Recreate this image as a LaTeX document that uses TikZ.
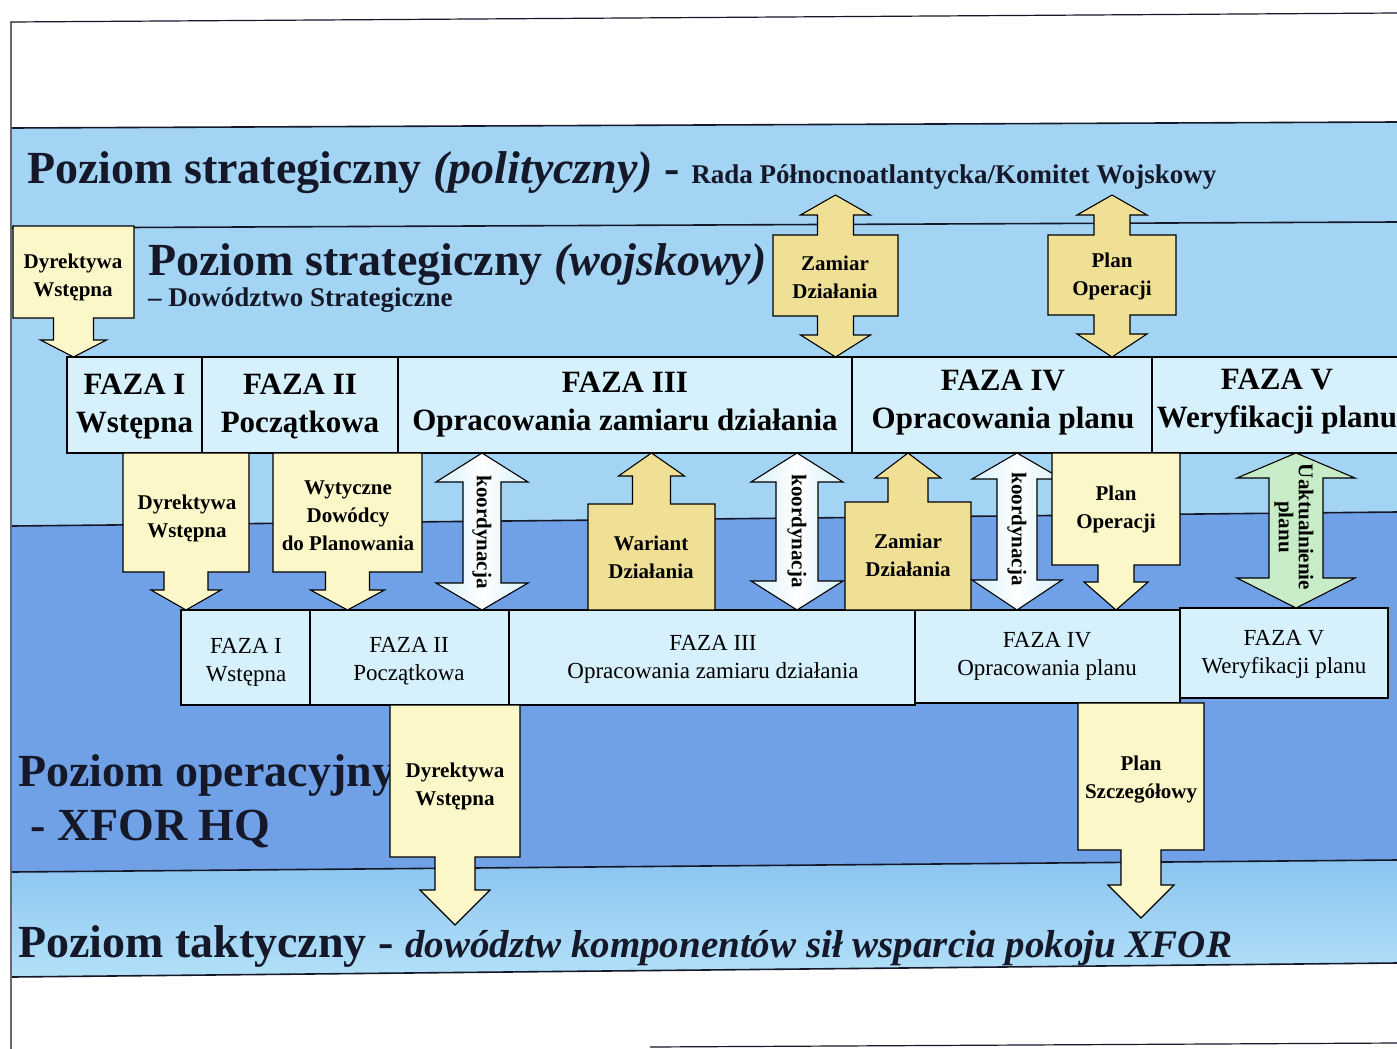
\documentclass[tikz,border=0pt]{standalone}
\usepackage{fontspec}
\setmainfont{Liberation Serif}

\definecolor{bandlight}{RGB}{164,212,244}
\definecolor{banddark}{RGB}{112,160,230}
\definecolor{tacttop}{RGB}{140,196,240}
\definecolor{tactbot}{RGB}{178,224,248}
\definecolor{cellfill}{RGB}{214,240,252}
\definecolor{paleyellow}{RGB}{252,247,200}
\definecolor{tanyellow}{RGB}{240,224,150}
\definecolor{coordfill}{RGB}{214,240,250}
\definecolor{updfill}{RGB}{200,236,200}
\definecolor{inkline}{RGB}{20,24,40}

\tikzset{
  bandrule/.style={draw=inkline, line width=1.6pt},
  outline/.style={draw=black, line width=1.1pt, line join=miter},
  cellbox/.style={outline, fill=cellfill},
  celltext/.style={align=center, inner sep=0pt, font=\fontsize{31}{38}\selectfont\bfseries},
  lowtext/.style={align=center, inner sep=0pt, font=\fontsize{23}{28}\selectfont},
  boxtext/.style={align=center, inner sep=0pt, font=\fontsize{21}{28}\selectfont\bfseries},
  sidetext/.style={align=center, inner sep=0pt, rotate=-90, font=\fontsize{21}{20}\selectfont\bfseries},
  title/.style={anchor=base west, inner sep=0pt, text=inkline, font=\fontsize{46}{46}\selectfont\bfseries},
}

% box with a one-way arrow: x1, x2, far edge, edge with shaft, head base, tip, style, shaft half-width, head half-width
\newcommand\blockarrow[9]{%
  \pgfmathsetmacro\bac{(#1+#2)/2}%
  \path[outline, #7] (#1,#3) -- (#1,#4) -- ({\bac-#8},#4) -- ({\bac-#8},#5) -- ({\bac-#9},#5)
    -- (\bac,#6) -- ({\bac+#9},#5) -- ({\bac+#8},#5) -- ({\bac+#8},#4) -- (#2,#4) -- (#2,#3) -- cycle;}

% box with arrows up and down: x1, x2, top, bottom, up base, up tip, down base, down tip, style
\newcommand\twowaybox[9]{%
  \pgfmathsetmacro\bac{(#1+#2)/2}%
  \path[outline, #9] (#1,#3) -- ({\bac-18},#3) -- ({\bac-18},#5) -- ({\bac-35},#5) -- (\bac,#6)
    -- ({\bac+35},#5) -- ({\bac+18},#5) -- ({\bac+18},#3) -- (#2,#3) -- (#2,#4) -- ({\bac+18},#4)
    -- ({\bac+18},#7) -- ({\bac+35},#7) -- (\bac,#8) -- ({\bac-35},#7) -- ({\bac-18},#7)
    -- ({\bac-18},#4) -- (#1,#4) -- cycle;}

% plain double arrow: centre, top tip, top base, bottom base, bottom tip, shaft half, head half, style
\newcommand\twowayarrow[8]{%
  \path[outline, #8] (#1,#2) -- ({#1+#7},#3) -- ({#1+#6},#3) -- ({#1+#6},#4) -- ({#1+#7},#4)
    -- (#1,#5) -- ({#1-#7},#4) -- ({#1-#6},#4) -- ({#1-#6},#3) -- ({#1-#7},#3) -- cycle;}

\begin{document}
\begin{tikzpicture}[x=1pt, y=-1pt]
\useasboundingbox (0,0) rectangle (1397,1049);
\clip (0,0) rectangle (1397,1049);
\fill[white] (0,0) rectangle (1397,1049);

% level bands
\fill[bandlight] (12,128) -- (1397,122) -- (1397,222) -- (12,228) -- cycle;
\fill[bandlight] (12,228) -- (1397,222) -- (1397,512) -- (12,526) -- cycle;
\fill[banddark]  (12,526) -- (1397,512) -- (1397,860) -- (12,872) -- cycle;
\shade[top color=tacttop, bottom color=tactbot] (12,872) -- (1397,860) -- (1397,963) -- (12,977) -- cycle;
\draw[bandrule] (12,128) -- (1397,122);
\draw[bandrule] (12,228) -- (1397,222);
\draw[bandrule] (12,526) -- (1397,512);
\draw[bandrule] (12,872) -- (1397,860);
\draw[bandrule] (12,977) -- (1397,963);

% page frame
\draw[line width=1.2pt, draw=inkline] (11,1049) -- (11,22) -- (1397,13);
\draw[line width=1.2pt, draw=inkline] (650,1047) -- (1397,1043);

% level titles
\node[title] (polit) at (27,183) {Poziom strategiczny \textit{(polityczny)} - {\fontsize{27}{27}\selectfont Rada Północnoatlantycka/Komitet Wojskowy}};
\node[title] (milit) at (148,275) {Poziom strategiczny \textit{(wojskowy)}};
\node[anchor=base west, inner sep=0pt, text=inkline, font=\fontsize{27}{27}\selectfont\bfseries] (cmd) at (148,306) {– Dowództwo Strategiczne};
\node[title] (oper) at (18,786) {Poziom operacyjny};
\node[title] (hq) at (30,840) {- XFOR HQ};
\node[title] (takt) at (18,957) {Poziom taktyczny - {\fontsize{39}{39}\selectfont\itshape dowództw komponentów sił wsparcia pokoju XFOR}};

% strategic phases
\draw[cellbox] (67,357) rectangle (202,453);
\draw[cellbox] (202,357) rectangle (398,453);
\draw[cellbox] (398,357) rectangle (852,453);
\draw[cellbox] (852,357) rectangle (1152,453);
\draw[cellbox] (1152,357) rectangle (1410,453);
\node[celltext] (sp1) at (134.5,407) {FAZA I\\Wstępna};
\node[celltext] (sp2) at (300,407) {FAZA II\\Początkowa};
\node[celltext] (sp3) at (625,405) {FAZA III\\Opracowania zamiaru działania};
\node[celltext] (sp4) at (1003,403) {FAZA IV\\Opracowania planu};
\node[celltext] (sp5) at (1277,402) {FAZA V\\Weryfikacji planu};

% operational phases
\draw[cellbox] (181,610) rectangle (310,705);
\draw[cellbox] (310,610) rectangle (509,705);
\draw[cellbox] (509,610) rectangle (915,705);
\draw[cellbox] (915,610) rectangle (1180,703);
\draw[cellbox] (1180,608) rectangle (1388,698);
\node[lowtext] (op1) at (246,662) {FAZA I\\Wstępna};
\node[lowtext] (op2) at (409,661) {FAZA II\\Początkowa};
\node[lowtext] (op3) at (713,659) {FAZA III\\Opracowania zamiaru działania};
\node[lowtext] (op4) at (1047,656) {FAZA IV\\Opracowania planu};
\node[lowtext] (op5) at (1284,654) {FAZA V\\Weryfikacji planu};

% documents between the political and military strategic levels
\blockarrow{13}{134}{226}{318}{340}{357}{fill=paleyellow}{20}{33}
\node[boxtext] (dir0) at (73,277) {Dyrektywa\\Wstępna};
\twowaybox{773}{898}{235}{316}{215}{195}{335}{357}{fill=tanyellow}
\node[boxtext] (intent0) at (835,277) {Zamiar\\Działania};
\twowaybox{1048}{1176}{235}{315}{215}{195}{334}{357}{fill=tanyellow}
\node[boxtext] (plan0) at (1112,276) {Plan\\Operacji};

% exchanges between the strategic and operational phases
\blockarrow{123}{249}{453}{572}{590}{610}{fill=paleyellow}{22}{35}
\node[boxtext] (dir1) at (187,518) {Dyrektywa\\Wstępna};
\blockarrow{273}{422}{453}{572}{590}{610}{fill=paleyellow}{22}{37}
\node[boxtext] (guide) at (348,516) {Wytyczne\\Dowódcy\\do Planowania};
\twowayarrow{482}{453}{482}{583}{610}{19}{46}{left color=coordfill, right color=coordfill, middle color=white}
\node[sidetext] (coord1) at (482,532) {koordynacja};
\blockarrow{588}{715}{610}{504}{476}{453}{fill=tanyellow}{19}{33}
\node[boxtext] (variant) at (651,557) {Wariant\\Działania};
\twowayarrow{797}{453}{482}{581}{610}{21}{46}{left color=coordfill, right color=coordfill, middle color=white}
\node[sidetext] (coord2) at (797,531) {koordynacja};
\blockarrow{845}{971}{610}{502}{478}{453}{fill=tanyellow}{20}{33}
\node[boxtext] (intent1) at (908,555) {Zamiar\\Działania};
\twowayarrow{1017}{453}{479}{580}{610}{20}{45}{left color=coordfill, right color=coordfill, middle color=white}
\node[sidetext] (coord3) at (1017,529) {koordynacja};
\blockarrow{1052}{1180}{453}{565}{582}{610}{fill=paleyellow}{18}{32}
\node[boxtext] (plan1) at (1116,509) {Plan\\Operacji};
\twowayarrow{1296}{453}{478}{578}{608}{27}{59}{fill=updfill}
\node[sidetext] (update) at (1294,527) {Uaktualnienie\\planu};

% documents for the tactical level
\blockarrow{390}{520}{705}{857}{890}{925}{fill=paleyellow}{20}{35}
\node[boxtext] (dir2) at (455,786) {Dyrektywa\\Wstępna};
\blockarrow{1078}{1204}{703}{850}{885}{918}{fill=paleyellow}{20}{33}
\node[boxtext] (detail) at (1141,780) {Plan\\Szczegółowy};
\end{tikzpicture}
\end{document}
